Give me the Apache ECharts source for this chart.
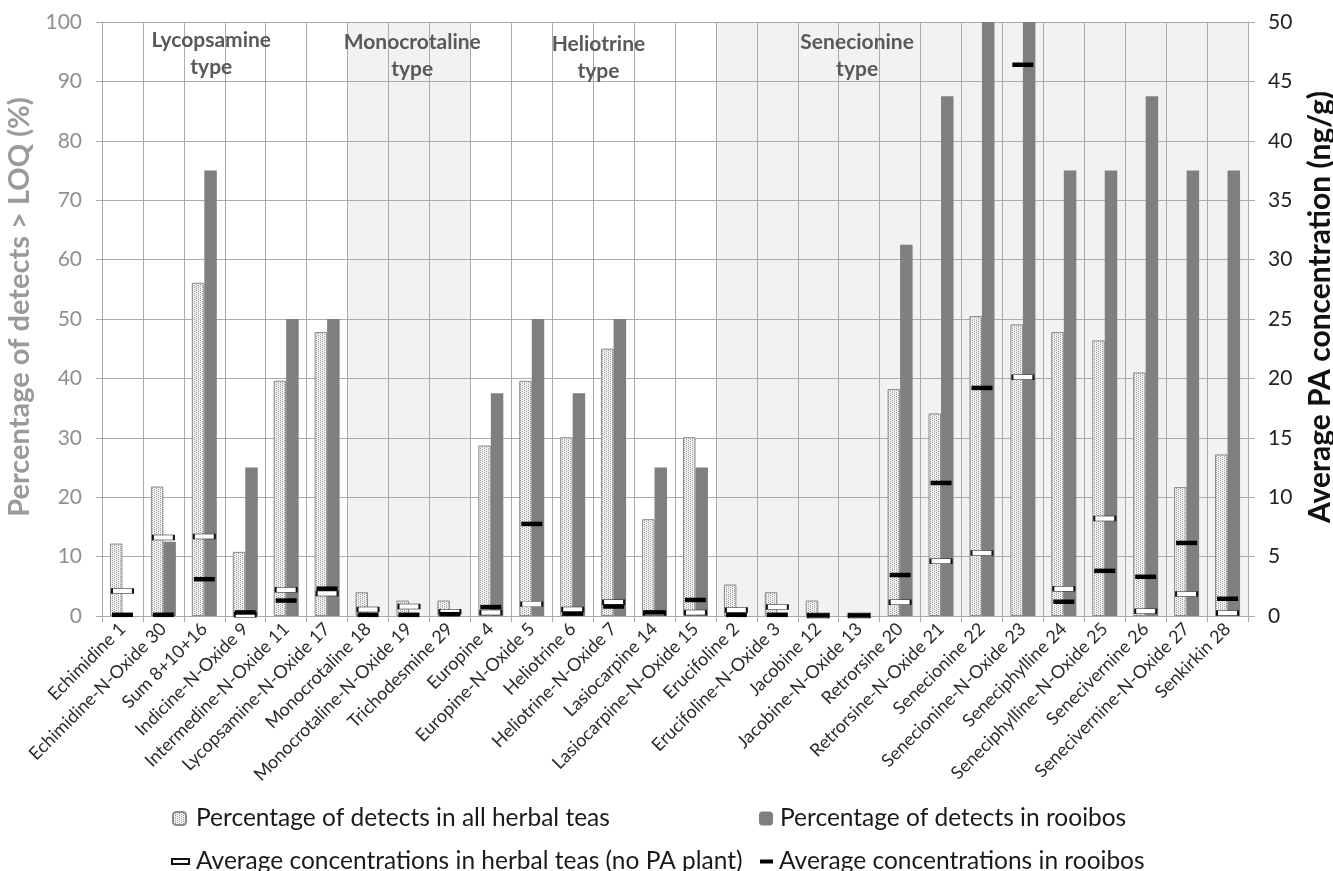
<!DOCTYPE html>
<html>
<head>
<meta charset="utf-8">
<script src="https://cdn.jsdelivr.net/npm/echarts@6/dist/echarts.min.js"></script>
<style>
  html, body { margin: 0; padding: 0; background: #ffffff; }
  #chart { width: 1333px; height: 871px; }
</style>
</head>
<body>
<div id="chart"></div>
<script>
// Pyrrolizidine alkaloids: detection rates and average concentrations
const categories = [
  'Echimidine 1', 'Echimidine-N-Oxide 30', 'Sum 8+10+16', 'Indicine-N-Oxide 9',
  'Intermedine-N-Oxide 11', 'Lycopsamine-N-Oxide 17', 'Monocrotaline 18',
  'Monocrotaline-N-Oxide 19', 'Trichodesmine 29', 'Europine 4', 'Europine-N-Oxide 5',
  'Heliotrine 6', 'Heliotrine-N-Oxide 7', 'Lasiocarpine 14', 'Lasiocarpine-N-Oxide 15',
  'Erucifoline 2', 'Erucifoline-N-Oxide 3', 'Jacobine 12', 'Jacobine-N-Oxide 13',
  'Retrorsine 20', 'Retrorsine-N-Oxide 21', 'Senecionine 22', 'Senecionine-N-Oxide 23',
  'Seneciphylline 24', 'Seneciphylline-N-Oxide 25', 'Senecivernine 26',
  'Senecivernine-N-Oxide 27', 'Senkirkin 28'
];

// Percentage of samples above LOQ (left axis, %)
const herbalPct = [
  12.2, 21.8, 56.1, 10.8, 39.6, 47.8, 4.0, 2.6, 2.6, 28.7, 39.6, 30.1, 45.0, 16.3,
  30.1, 5.3, 4.0, 2.6, 0, 38.2, 34.1, 50.5, 49.1, 47.8, 46.4, 41.0, 21.7, 27.2
];
const rooibosPct = [
  0, 12.5, 75, 25, 50, 50, 0, 0, 0, 37.5, 50, 37.5, 50, 25,
  25, 0, 0, 0, 0, 62.5, 87.5, 100, 100, 75, 75, 87.5, 75, 75
];

// Average concentrations (right axis, ng/g)
const herbalConc = [
  2.1, 6.6, 6.7, 0.1, 2.2, 1.9, 0.55, 0.8, 0.35, 0.3, 1.0, 0.55, 1.15, 0.25,
  0.3, 0.5, 0.75, 0.05, 0.05, 1.15, 4.6, 5.3, 20.1, 2.3, 8.2, 0.4, 1.85, 0.25
];
const rooibosConc = [
  0.1, 0.1, 3.1, 0.3, 1.3, 2.3, 0.1, 0.1, 0.15, 0.75, 7.75, 0.2, 0.8, 0.3,
  1.35, 0.1, 0.1, 0.05, 0.05, 3.45, 11.2, 19.2, 46.4, 1.2, 3.8, 3.3, 6.15, 1.45
];

// Alkaloid structural types and how many compounds each spans
const groupNames = ['Lycopsamine\ntype', 'Monocrotaline\ntype', 'Heliotrine\ntype', 'Senecionine\ntype'];
const groupSizes = [6, 3, 6, 13];

const leftTicks = { min: 0, max: 100, interval: 10 };
const rightTicks = { min: 0, max: 50, interval: 5 };

// Layout of the type captions: fractional category position and offset below the plot top
const groupLabelAt = [2.17, 7.08, 11.63, 17.95];
const groupLabelTop = [4.5, 6.5, 8.5, 6.5];

const FONT = 'Lato, "Noto Sans", sans-serif';

// Stippled fill used for the herbal-tea bars
function stipple() {
  const c = document.createElement('canvas');
  c.width = 4; c.height = 4;
  const g = c.getContext('2d');
  g.fillStyle = '#f1f1f1';
  g.fillRect(0, 0, 4, 4);
  g.fillStyle = '#9c9c9c';
  for (let y = 0; y < 4; y++) {
    const x = (y % 2) * 2;
    g.fillRect(x, y, 1, 1);
  }
  return c;
}
const dotted = { image: stipple(), repeat: 'repeat' };

// Alternate band shading per structural type
const bandColors = [];
groupSizes.forEach((n, gi) => {
  for (let i = 0; i < n; i++) bandColors.push(gi % 2 ? '#f2f2f2' : '#ffffff');
});

const chart = echarts.init(document.getElementById('chart'), null, { renderer: 'canvas' });

const gridColor = '#ababab';

const legendBase = {
  orient: 'horizontal',
  selectedMode: false,
  padding: 0,
  textStyle: { fontFamily: FONT, fontSize: 24.5, color: '#1a1a1a' }
};

chart.setOption({
  animation: false,
  backgroundColor: '#ffffff',
  textStyle: { fontFamily: FONT },
  grid: {
    left: 102, right: 85, top: 22, bottom: 255,
    containLabel: false,
    outerBoundsMode: 'none'
  },
  legend: [
    Object.assign({}, legendBase, {
      data: ['Percentage of detects in all herbal teas'],
      left: 172, top: 806, itemWidth: 13, itemHeight: 13,
      textStyle: Object.assign({}, legendBase.textStyle, { padding: [0, 0, 0, 5] })
    }),
    Object.assign({}, legendBase, {
      data: ['Percentage of detects in rooibos'],
      left: 759, top: 806, itemWidth: 14, itemHeight: 14,
      textStyle: Object.assign({}, legendBase.textStyle, { padding: [0, 0, 0, 2] })
    }),
    Object.assign({}, legendBase, {
      data: ['Average concentrations in herbal teas (no PA plant)'],
      left: 171, top: 849, itemWidth: 17, itemHeight: 5,
      textStyle: Object.assign({}, legendBase.textStyle, { padding: [0, 0, 0, 2] })
    }),
    Object.assign({}, legendBase, {
      data: ['Average concentrations in rooibos'],
      left: 760, top: 849, itemWidth: 13, itemHeight: 4,
      textStyle: Object.assign({}, legendBase.textStyle, { padding: [0, 0, 0, 1] })
    })
  ],
  xAxis: {
    type: 'category',
    data: categories,
    boundaryGap: true,
    z: 0,
    axisLine: { show: true, lineStyle: { color: gridColor, width: 1 } },
    axisTick: { show: true, length: 6, lineStyle: { color: gridColor } },
    axisLabel: {
      interval: 0,
      rotate: 45,
      margin: 10,
      fontFamily: FONT,
      fontSize: 18,
      color: '#2b2b2b'
    },
    splitLine: { show: true, interval: 0, lineStyle: { color: gridColor, width: 1 } },
    splitArea: { show: true, interval: 0, areaStyle: { color: bandColors } }
  },
  yAxis: [
    {
      type: 'value',
      z: 1,
      min: leftTicks.min, max: leftTicks.max, interval: leftTicks.interval,
      position: 'left',
      name: 'Percentage of detects > LOQ (%)',
      nameLocation: 'middle',
      nameRotate: 90,
      nameGap: 61,
      nameTextStyle: {
        fontFamily: FONT, fontSize: 29, fontWeight: 'bold', color: '#9a9a9a',
        padding: [0, 0, 0, 24]
      },
      axisLine: { show: true, lineStyle: { color: gridColor } },
      axisTick: { show: true, length: 6, lineStyle: { color: gridColor } },
      axisLabel: { margin: 20, fontFamily: FONT, fontSize: 21, color: '#8f8f8f' },
      splitLine: { show: true, lineStyle: { color: gridColor, width: 1 } }
    },
    {
      type: 'value',
      z: 1,
      min: rightTicks.min, max: rightTicks.max, interval: rightTicks.interval,
      position: 'right',
      name: 'Average PA concentration (ng/g)',
      nameLocation: 'middle',
      nameRotate: 90,
      nameGap: 57,
      nameTextStyle: {
        fontFamily: FONT, fontSize: 30, fontWeight: 'bold', color: '#111111',
        padding: [0, 0, 0, 24]
      },
      axisLine: { show: true, lineStyle: { color: gridColor } },
      axisTick: { show: true, length: 7, lineStyle: { color: gridColor } },
      axisLabel: { margin: 20, fontFamily: FONT, fontSize: 21, color: '#222222' },
      splitLine: { show: false }
    }
  ],
  series: [
    {
      name: 'Percentage of detects in all herbal teas',
      type: 'bar',
      yAxisIndex: 0,
      data: herbalPct,
      barWidth: 12.5,
      barGap: '0%',
      z: 2,
      itemStyle: { color: dotted, borderColor: '#8a8a8a', borderWidth: 1 }
    },
    {
      name: 'Percentage of detects in rooibos',
      type: 'bar',
      yAxisIndex: 0,
      data: rooibosPct,
      barWidth: 12.5,
      barGap: '0%',
      z: 2,
      itemStyle: { color: '#7f7f7f' }
    },
    {
      name: 'Average concentrations in herbal teas (no PA plant)',
      type: 'scatter',
      yAxisIndex: 1,
      data: herbalConc,
      symbol: 'rect',
      symbolSize: [21, 5],
      z: 4,
      itemStyle: { color: '#ffffff', borderColor: '#111111', borderWidth: 1, opacity: 1 }
    },
    {
      name: 'Average concentrations in rooibos',
      type: 'scatter',
      yAxisIndex: 1,
      data: rooibosConc,
      symbol: 'rect',
      symbolSize: [21, 4.5],
      z: 5,
      itemStyle: { color: '#000000', opacity: 1 }
    }
  ]
});

// Type captions positioned along the category axis
function placeCaptions() {
  const p0 = chart.convertToPixel({ xAxisIndex: 0 }, categories[0]);
  const p1 = chart.convertToPixel({ xAxisIndex: 0 }, categories[1]);
  const step = p1 - p0;
  const top = chart.convertToPixel({ yAxisIndex: 0 }, leftTicks.max);
  chart.setOption({
    graphic: groupNames.map((name, i) => ({
      type: 'text',
      z: 10,
      x: p0 + step * groupLabelAt[i],
      y: top + groupLabelTop[i],
      style: {
        text: name,
        fill: '#595959',
        font: 'bold 21px ' + FONT,
        align: 'center',
        verticalAlign: 'top',
        lineHeight: 27
      }
    }))
  });
}
placeCaptions();
</script>
</body>
</html>
